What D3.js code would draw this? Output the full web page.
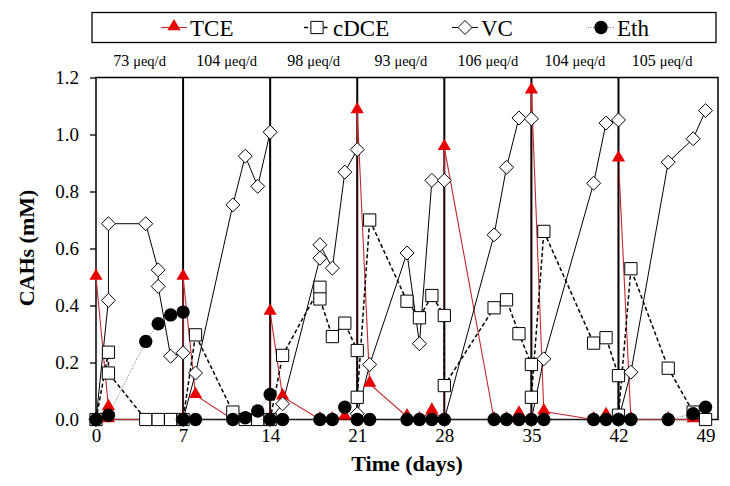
<!DOCTYPE html>
<html><head><meta charset="utf-8">
<script src="https://cdn.jsdelivr.net/npm/d3@7"></script>
<style>
html,body{margin:0;padding:0;background:#fff;}
svg text{font-family:"Liberation Serif","Times New Roman",serif !important;fill:#000;}
</style></head>
<body>
<svg id="chart" width="730" height="486"></svg>
<script>
// ---- data (day, mM) ----
const tce = [[0,0.50],[1,0.043],[1,0],[7,0],[7,0.50],[8,0.085],[11,0],[12,0],[13,0],[14,0],[14,0.377],[15,0.08],
  [18,0],[19,0],[20,0.01],[21,0],[21,1.084],[22,0.125],[25,0.01],[26,0],[27,0.03],[28,0],[28,0.955],
  [32,0],[33,0],[34,0.02],[35,0],[35,1.154],[36,0.028],[40,0],[41,0.015],[42,0],[42,0.915],[43,0],[46,0],[48,0]];
const cdce = [[0,0],[1,0.236],[1,0.163],[4,0],[5,0],[6,0],[7,0],[8,0.297],[11,0.026],[12,0],[13,0],[14,0],
  [15,0.225],[18,0.464],[18,0.423],[19,0.291],[20,0.338],[21,0.242],[21,0.078],[22,0.70],[25,0.415],[26,0.357],
  [27,0.435],[28,0.365],[28,0.119],[32,0.392],[33,0.42],[34,0.301],[35,0.193],[35,0.078],[36,0.66],[40,0.268],
  [41,0.287],[42,0.154],[42,0.015],[43,0.529],[46,0.18],[48,0.026],[49,0]];
const vc = [[0,0],[1,0.418],[1,0.687],[4,0.687],[5,0.525],[5,0.467],[6,0.222],[7,0.234],[7,0],[8,0.163],[11,0.753],
  [12,0.924],[13,0.818],[14,1.008],[14,0],[15,0.055],[18,0.566],[18,0.613],[19,0.531],[20,0.868],[21,0.947],[21,0.02],
  [22,0.193],[25,0.584],[26,0.266],[27,0.839],[28,0.839],[28,0],[32,0.648],[33,0.885],[34,1.058],[35,1.055],[35,0],
  [36,0.213],[40,0.829],[41,1.04],[42,1.051],[42,0],[43,0.166],[46,0.903],[48,0.985],[49,1.084]];
const eth = [[0,0],[1,0.015],[4,0.274],[5,0.336],[6,0.367],[7,0.377],[7,0],[8,0],[11,0],[12,0.006],[13,0.03],[14,0.088],
  [14,0],[15,0],[18,0],[19,0],[20,0.043],[21,0],[22,0],[25,0],[26,0],[27,0],[28,0],[32,0],[33,0],[34,0],[35,0],[36,0],
  [40,0],[41,0],[42,0],[43,0],[46,0],[48,0.02],[49,0.043]];
const feedDays = [7,14,21,28,35,42];
const xTicks = [0,7,14,21,28,35,42,49];
const yTicks = [0,0.2,0.4,0.6,0.8,1.0,1.2];
const rates = ["73","104","98","93","106","104","105"];
const rateMid = [3.5,10.5,17.5,24.5,31.5,38.5,45.5];
const legendNames = ["TCE","cDCE","VC","Eth"];

const FONT = '"Liberation Serif","Times New Roman",serif';
const svg = d3.select("#chart");
const L=96, R=718, T=77.5, B=419.5;
const x = d3.scaleLinear().domain([0,50]).range([L,R]);
const y = d3.scaleLinear().domain([0,1.2]).range([B,T]);

// feeding lines
svg.append("g").selectAll("line").data(feedDays).join("line")
  .attr("x1",d=>x(d)).attr("x2",d=>x(d)).attr("y1",T).attr("y2",B)
  .attr("stroke","#000").attr("stroke-width",2);

// y axis
const yAxis = svg.append("g").attr("transform",`translate(${L},0)`)
  .call(d3.axisLeft(y).tickValues(yTicks).tickFormat(d3.format(".1f")).tickSize(6).tickPadding(11));
yAxis.attr("font-family",null);
yAxis.select(".domain").remove();
yAxis.selectAll("line").attr("stroke-width",1.3);
yAxis.selectAll("text").attr("font-size",19).style("font-family",FONT);
// x axis
const xAxis = svg.append("g").attr("transform",`translate(0,${B})`)
  .call(d3.axisBottom(x).tickValues(xTicks).tickFormat(d3.format("d")).tickSize(0).tickPadding(9));
xAxis.attr("font-family",null);
xAxis.select(".domain").remove();
xAxis.selectAll("text").attr("font-size",19).style("font-family",FONT);

// frame
svg.append("rect").attr("x",L).attr("y",T).attr("width",R-L).attr("height",B-T)
  .attr("fill","none").attr("stroke","#000").attr("stroke-width",1.5);

// series
const line = d3.line().x(d=>x(d[0])).y(d=>y(d[1]));
const sym = {
  tri: d3.symbol().type(d3.symbolTriangle).size(75)(),
  sq: d3.symbol().type(d3.symbolSquare).size(150)(),
  dia: "M0,-7L7,0L0,7L-7,0Z",
  cir: d3.symbol().type(d3.symbolCircle).size(140)()
};
const series = [
  {data:tce, stroke:"#c1272d", w:1.1, dash:null, shape:sym.tri, fill:"#e80000", mstroke:"#e80000", mw:0, dy:1},
  {data:cdce, stroke:"#000", w:1.5, dash:"4,2.5", shape:sym.sq, fill:"#fff", mstroke:"#000", mw:1},
  {data:vc, stroke:"#000", w:1, dash:null, shape:sym.dia, fill:"#fff", mstroke:"#000", mw:1},
  {data:eth, stroke:"#555", w:0.8, dash:"1,1.5", shape:sym.cir, fill:"#000", mstroke:"#000", mw:0}
];
series.forEach(s=>{
  svg.append("path").datum(s.data).attr("d",line).attr("fill","none")
    .attr("stroke",s.stroke).attr("stroke-width",s.w).attr("stroke-dasharray",s.dash);
});
series.forEach(s=>{
  svg.append("g").selectAll("path").data(s.data).join("path")
    .attr("d",s.shape).attr("transform",d=>`translate(${x(d[0])},${y(d[1])-(s.dy||0)})`)
    .attr("fill",s.fill).attr("stroke",s.mstroke).attr("stroke-width",s.mw);
});

// legend
svg.append("rect").attr("x",92).attr("y",12.5).attr("width",624).attr("height",30)
  .attr("fill","#fff").attr("stroke","#000").attr("stroke-width",1.3);
const legX = [174,317,465,601];
series.forEach((s,i)=>{
  const g = svg.append("g").attr("transform",`translate(${legX[i]},27.5)`);
  g.append("line").attr("x1",-13).attr("x2",13).attr("stroke",s.stroke).attr("stroke-width",s.w)
    .attr("stroke-dasharray",s.dash);
  g.append("path").attr("d",s.shape).attr("transform",i===0?"translate(0,-1)":null)
    .attr("fill",s.fill).attr("stroke",s.mstroke).attr("stroke-width",s.mw);
  g.append("text").attr("x",16).attr("y",8).attr("font-size",23).style("font-family",FONT).text(legendNames[i]);
});

// rates
const rt = svg.append("g").selectAll("text").data(rates).join("text")
  .attr("x",(d,i)=>x(rateMid[i])).attr("y",66).attr("text-anchor","middle").style("font-family",FONT);
rt.append("tspan").attr("font-size",16).text(d=>d+" ");
rt.append("tspan").attr("font-size",14.5).text("μeq/d");

// axis titles
svg.append("text").attr("x",407).attr("y",471).attr("text-anchor","middle").style("font-family",FONT)
  .attr("font-size",22).attr("font-weight","bold").text("Time (days)");
svg.append("text").attr("transform","translate(34,248) rotate(-90)").attr("text-anchor","middle").style("font-family",FONT)
  .attr("font-size",22).attr("font-weight","bold").text("CAHs (mM)");
</script>
</body></html>
